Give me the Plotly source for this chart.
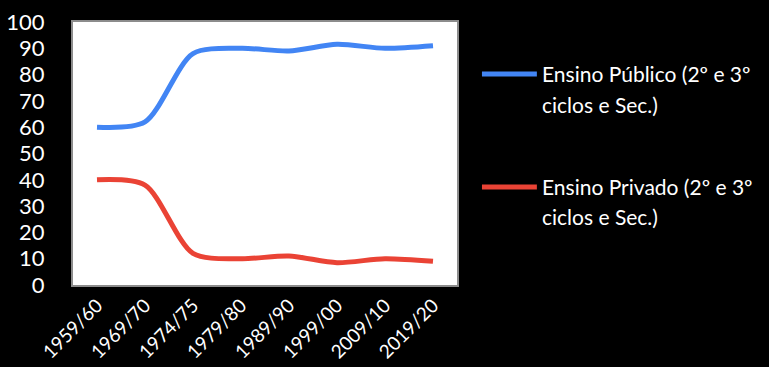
import plotly.graph_objs as go

# dados
anos = ["1959/60", "1969/70", "1974/75", "1979/80", "1989/90", "1999/00", "2009/10", "2019/20"]
publico = [60, 62, 88, 90, 89, 91.5, 90, 91]
privado = [40, 38, 12, 10, 11, 8.5, 10, 9]
nomes = ["Ensino Público (2º e 3º", "ciclos e Sec.)", "Ensino Privado (2º e 3º", "ciclos e Sec.)"]

AZUL = "#4285F4"
VERMELHO = "#EA4335"
FONTE = "Lato, Open Sans, sans-serif"

fig = go.Figure()
fig.add_trace(go.Scatter(x=anos, y=publico, mode="lines",
                         line={"color": AZUL, "width": 5, "shape": "spline", "smoothing": 0.8}))
fig.add_trace(go.Scatter(x=anos, y=privado, mode="lines",
                         line={"color": VERMELHO, "width": 5, "shape": "spline", "smoothing": 0.8}))

# legenda desenhada à mão (linha mais longa que a do plotly)
for cor, y_linha in [(AZUL, 0.802), (VERMELHO, 0.373)]:
    fig.add_shape(type="line", xref="paper", yref="paper", x0=1.065, x1=1.208, y0=y_linha, y1=y_linha,
                  line={"color": cor, "width": 5})
idx = 0
for y_t in [0.805, 0.685, 0.376, 0.260]:
    fig.add_annotation(xref="paper", yref="paper", x=1.216, y=y_t, text=nomes[idx], showarrow=False,
                       xanchor="left", yanchor="middle",
                       font={"color": "white", "size": 21, "family": FONTE})
    idx += 1

fig.update_layout(
    width=769, height=367,
    margin={"l": 73, "r": 312, "t": 22, "b": 82},
    paper_bgcolor="black", plot_bgcolor="white",
    showlegend=False,
    font={"color": "white", "family": FONTE},
    xaxis={"showgrid": False, "tickangle": -45, "tickfont": {"size": 19}, "range": [-0.5, 7.5],
           "automargin": False,
           "linecolor": "#8c8c8c", "linewidth": 2, "mirror": True, "ticks": ""},
    yaxis={"range": [0, 100], "dtick": 10, "showgrid": False, "zeroline": False, "automargin": False,
           "tickfont": {"size": 22}, "ticklabelstandoff": 22,
           "linecolor": "#8c8c8c", "linewidth": 2, "mirror": True, "ticks": ""},
)

fig.write_html("out.html", config={"displayModeBar": False},
               post_script="document.body.style.margin='0';document.body.style.background='black';")
